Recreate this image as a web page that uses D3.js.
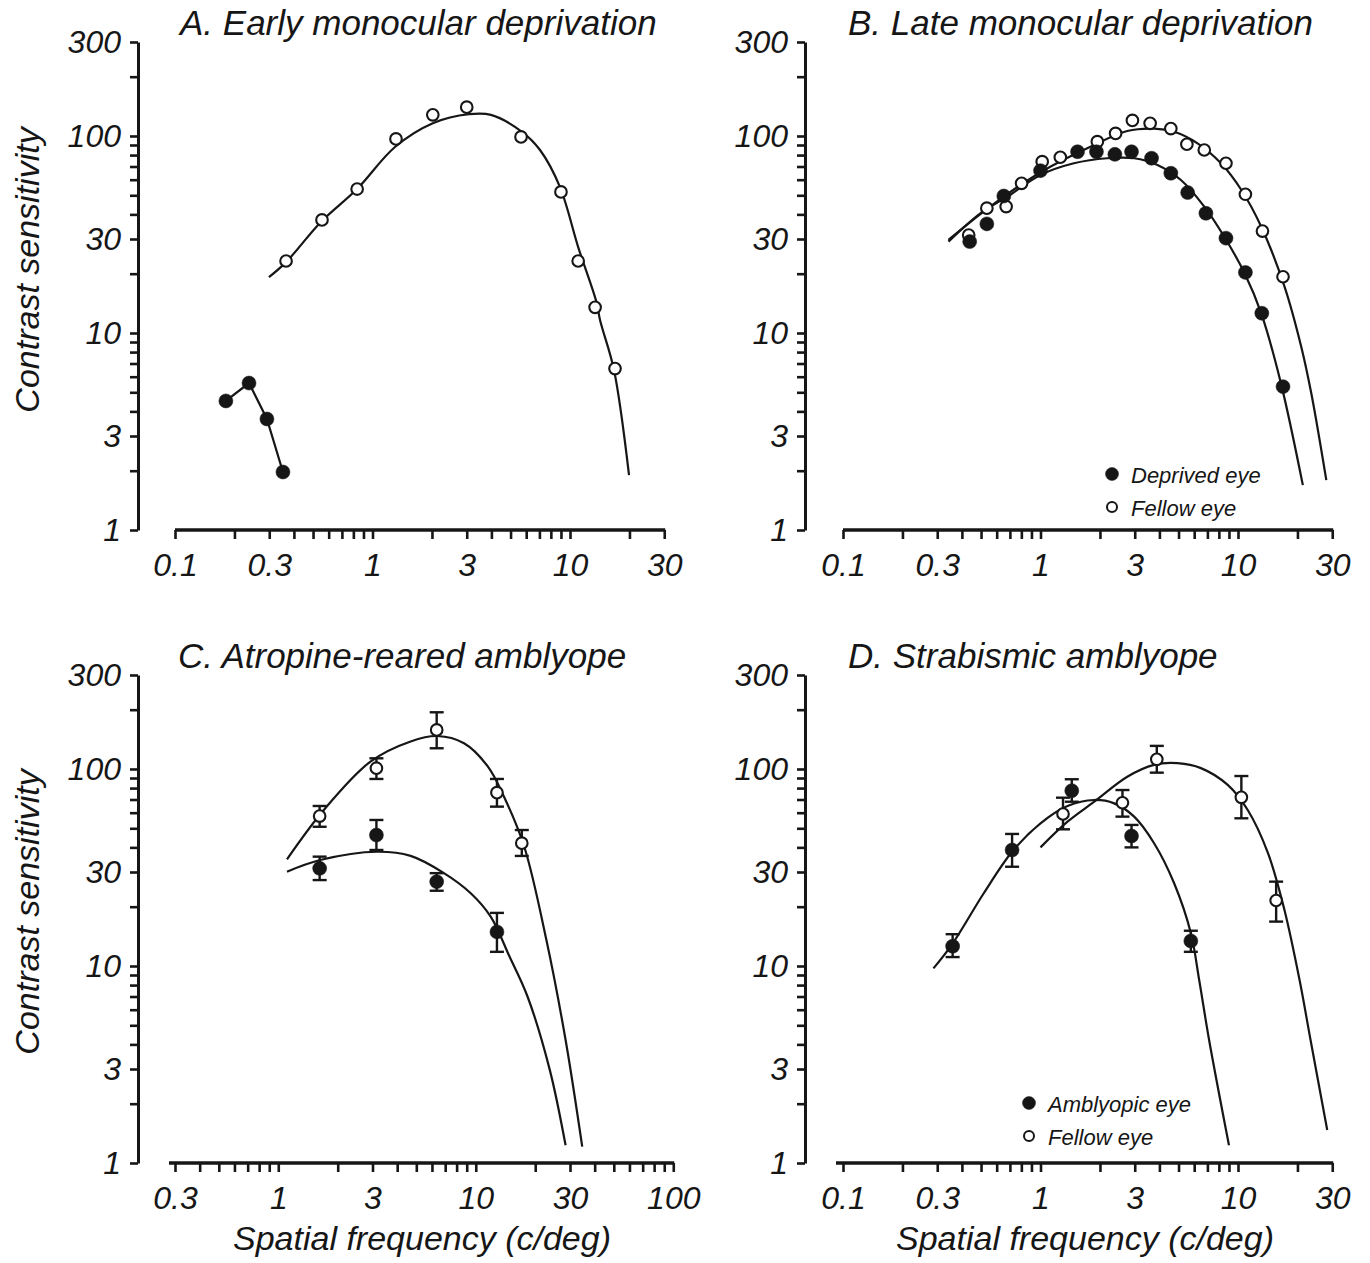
<!DOCTYPE html>
<html><head><meta charset="utf-8">
<script src="https://cdn.jsdelivr.net/npm/d3@7"></script>
<style>
body{margin:0;background:#fff}
text{font-family:"Liberation Sans",Arial,sans-serif;font-style:italic;fill:#161616}
</style>
</head><body>
<svg id="chart" width="1370" height="1263"></svg>
<script>
// ---------- tick values ----------
const yTicks = [1,2,3,4,5,6,7,8,9,10,20,30,40,50,60,70,80,90,100,200,300];
const yTickLabels = [1,3,10,30,100,300];
const xTicksWide = [0.1,0.2,0.3,0.4,0.5,0.6,0.7,0.8,0.9,1,2,3,4,5,6,7,8,9,10,20,30];
const xTickLabelsWide = [0.1,0.3,1,3,10,30];
const xTicksC = [0.3,0.4,0.5,0.6,0.7,0.8,0.9,1,2,3,4,5,6,7,8,9,10,20,30,40,50,60,70,80,90,100];
const xTickLabelsC = [0.3,1,3,10,30,100];

// ---------- Panel A: early monocular deprivation ----------
const aOpen = [[0.365,23.2],[0.555,37.5],[0.836,53.8],[1.315,96.6],[2.02,128],[3.0,140],[5.65,98.9],[9.0,52],[11.0,23.2],[13.4,13.5],[16.9,6.6]];
const aOpenCurve = [[0.299,19.2],[0.365,22.9],[0.548,36.6],[0.835,53.8],[1.30,87.9],[2.02,116],[3.08,129],[3.98,128],[5.71,105],[7.05,84.9],[8.9,55],[11.0,27.3],[13.6,14.4],[14.2,11.6],[16.7,6.49],[19.9,1.90]];
const aFilled = [[0.181,4.52],[0.237,5.57],[0.292,3.66],[0.352,1.97]];

// ---------- Panel B: late monocular deprivation ----------
const bDeprived = [[0.438,29.1],[0.535,35.8],[0.652,49.6],[1.00,66.7],[1.54,83.2],[1.92,83.2],[2.38,80.7],[2.89,83.2],[3.65,77.1],[4.57,64.7],[5.56,51.6],[6.88,40.5],[8.69,30.3],[10.9,20.3],[13.2,12.6],[16.9,5.34]];
const bFellow = [[0.433,31.4],[0.535,43.0],[0.670,43.8],[0.802,57.5],[1.02,74.1],[1.26,78.0],[1.94,93.6],[2.40,103],[2.92,120],[3.59,116],[4.57,109],[5.51,90.8],[6.75,84.9],[8.69,72.7],[10.9,50.6],[13.3,32.9],[16.9,19.3]];
const bDeprivedCurve = [[0.342,29.1],[0.496,40.5],[0.678,49.2],[1.0,63.4],[1.476,72.7],[2.18,77.1],[2.98,77.1],[3.91,71.3],[5.14,59.8],[6.75,43.8],[8.52,30.8],[10.8,20.1],[13.1,12.6],[16.5,5.55],[21.3,1.69]];
const bFellowCurve = [[0.342,29.7],[0.515,41.3],[0.791,56.4],[1.12,69.8],[1.79,88.3],[2.75,106],[3.76,109],[4.75,105],[6.24,91.8],[8.20,72.7],[10.4,53.2],[13.1,34.7],[17.2,17.2],[20.9,8.52],[23.5,4.94],[28.0,1.79]];

// ---------- Panel C: atropine-reared amblyope (f, s, lo, hi) ----------
const cFellow = [[1.62,57.7,50.9,64.9],[3.14,100.9,89.0,113.3],[6.34,157.8,127.4,194],[12.8,75.8,64.4,89.0],[17.1,42.0,36.2,49.0]];
const cAmblyopic = [[1.62,31.3,27.3,35.9],[3.14,46.2,38.8,55.1],[6.34,26.8,24.1,29.6],[12.8,14.9,11.8,18.6]];
const cFellowCurve = [[1.107,34.8],[1.70,61.9],[2.93,109],[4.68,138],[6.39,147],[8.72,135],[11.5,103],[13.9,72.3],[17.6,40.3],[22.8,13.5],[28.5,4.21],[34.6,1.21]];
const cAmblyopicCurve = [[1.107,30.1],[1.63,34.5],[3.17,38.0],[4.68,36.2],[6.90,29.6],[9.43,23.4],[11.9,17.8],[14.8,11.2],[18.3,6.98],[23.7,2.97],[28.5,1.23]];

// ---------- Panel D: strabismic amblyope (f, s, lo, hi) ----------
const dAmblyopic = [[0.359,12.6,11.1,14.5],[0.718,38.8,31.9,46.8],[1.44,77.6,68.2,88.7],[2.89,45.7,40.0,52.0],[5.77,13.4,11.8,15.1]];
const dFellow = [[1.30,59.1,49.4,71.5],[2.60,67.4,57.3,78.2],[3.88,112,95.8,131],[10.4,71.8,56.2,92.1],[15.6,21.5,16.8,26.8]];
const dAmblyopicCurve = [[0.287,9.73],[0.359,13.0],[0.516,23.4],[0.718,38.0],[1.0,53.0],[1.37,64.9],[1.87,69.6],[2.36,66.9],[2.98,57.3],[3.76,42.0],[4.75,26.3],[5.77,14.7],[6.36,8.49],[7.14,4.21],[9.00,1.23]];
const dFellowCurve = [[1.0,40.0],[1.37,54.0],[1.87,68.2],[2.75,91.4],[3.76,105],[4.94,107],[6.49,101],[8.87,83.0],[11.2,61.9],[14.2,37.3],[17.2,19.2],[20.5,8.49],[23.3,4.21],[28.3,1.47]];

// ---------- layout ----------
const DEC = 197.5;
const svg = d3.select("#chart");
const INK = "#161616";

function makePanel(cfg){
  const g = svg.append("g");
  const x = d3.scaleLog().domain(cfg.xDomain)
    .range([cfg.x0, cfg.x0 + Math.log10(cfg.xDomain[1]/cfg.xDomain[0])*DEC]);
  const y = d3.scaleLog().domain([1,300]).range([cfg.yBot, cfg.yBot - Math.log10(300)*DEC*0.9975]);

  // y axis
  const ya = g.append("g").attr("transform",`translate(${cfg.yAxisX},0)`)
    .call(d3.axisLeft(y).tickValues(yTicks).tickSize(8).tickSizeOuter(0).tickPadding(9)
      .tickFormat(d => yTickLabels.includes(d) ? d : ""));
  ya.select(".domain").attr("stroke",INK).attr("stroke-width",3);
  ya.selectAll(".tick line").attr("stroke",INK).attr("stroke-width",2.6);
  ya.selectAll(".tick text").attr("font-size",32).attr("fill",INK)
    .attr("font-family",null).attr("font-style","italic");

  // x axis
  const xa = g.append("g").attr("transform",`translate(0,${cfg.yBot})`)
    .call(d3.axisBottom(x).tickValues(cfg.xTicks).tickSize(9).tickSizeOuter(0).tickPadding(14)
      .tickFormat(d => cfg.xLabels.includes(d) ? d : ""));
  xa.select(".domain").remove();
  const r = x.range();
  xa.append("line").attr("x1",r[0]-cfg.ext).attr("x2",r[1]+1).attr("y1",0).attr("y2",0)
    .attr("stroke",INK).attr("stroke-width",3.4);
  xa.selectAll(".tick line").attr("stroke",INK).attr("stroke-width",2.6);
  xa.selectAll(".tick text").attr("font-size",32).attr("fill",INK)
    .attr("font-family",null).attr("font-style","italic");
  g.selectAll("text").attr("font-family",'"Liberation Sans",Arial,sans-serif');

  // title
  g.append("text").attr("x",cfg.titleX).attr("y",cfg.titleY).attr("font-size",35).text(cfg.title);

  const line = d3.line().x(d=>x(d[0])).y(d=>y(d[1])).curve(d3.curveCatmullRom.alpha(0.5));
  const straight = d3.line().x(d=>x(d[0])).y(d=>y(d[1]));

  (cfg.curves||[]).forEach(c=>{
    g.append("path").attr("d",line(c)).attr("fill","none").attr("stroke",INK).attr("stroke-width",2.2);
  });
  (cfg.straight||[]).forEach(c=>{
    g.append("path").attr("d",straight(c)).attr("fill","none").attr("stroke",INK).attr("stroke-width",2.2);
  });
  (cfg.errSeries||[]).forEach(s=>{
    const eg = g.append("g");
    s.data.forEach(d=>{
      const cx = x(d[0]);
      eg.append("line").attr("x1",cx).attr("x2",cx).attr("y1",y(d[2])).attr("y2",y(d[3]))
        .attr("stroke",INK).attr("stroke-width",2.4);
      [d[2],d[3]].forEach(v=>{
        eg.append("line").attr("x1",cx-7).attr("x2",cx+7).attr("y1",y(v)).attr("y2",y(v))
          .attr("stroke",INK).attr("stroke-width",2.4);
      });
    });
  });
  (cfg.points||[]).forEach(s=>{
    g.append("g").selectAll("circle").data(s.data).join("circle")
      .attr("cx",d=>x(d[0])).attr("cy",d=>y(d[1]))
      .attr("r", s.filled ? 7 : 5.8)
      .attr("fill", s.filled ? INK : "#fff")
      .attr("stroke", INK).attr("stroke-width", s.filled ? 0.5 : 2.1);
  });
  if(cfg.legend){
    cfg.legend.forEach((L,i)=>{
      const ly = cfg.legendY + i*33;
      g.append("circle").attr("cx",cfg.legendX).attr("cy",ly)
        .attr("r", L.filled ? 6.5 : 5).attr("fill", L.filled ? INK : "#fff")
        .attr("stroke",INK).attr("stroke-width", L.filled ? 0.5 : 2);
      g.append("text").attr("x",cfg.legendX+19).attr("y",ly+9).attr("font-size",22).text(L.label);
    });
  }
}

makePanel({x0:175, xDomain:[0.1,30], xTicks:xTicksWide, xLabels:xTickLabelsWide, yAxisX:138, yBot:530, ext:0,
  title:"A. Early monocular deprivation", titleX:180, titleY:35,
  curves:[aOpenCurve], straight:[aFilled],
  points:[{data:aOpen, filled:false},{data:aFilled, filled:true}]});

makePanel({x0:843, xDomain:[0.1,30], xTicks:xTicksWide, xLabels:xTickLabelsWide, yAxisX:805, yBot:530, ext:0,
  title:"B. Late monocular deprivation", titleX:848, titleY:35,
  curves:[bDeprivedCurve, bFellowCurve],
  points:[{data:bFellow, filled:false},{data:bDeprived, filled:true}],
  legend:[{label:"Deprived eye", filled:true},{label:"Fellow eye", filled:false}], legendX:1112, legendY:474});

makePanel({x0:175, xDomain:[0.3,100], xTicks:xTicksC, xLabels:xTickLabelsC, yAxisX:138, yBot:1163, ext:6,
  title:"C. Atropine-reared amblyope", titleX:178, titleY:668,
  curves:[cFellowCurve, cAmblyopicCurve],
  errSeries:[{data:cFellow},{data:cAmblyopic}],
  points:[{data:cFellow, filled:false},{data:cAmblyopic, filled:true}]});

makePanel({x0:843, xDomain:[0.1,30], xTicks:xTicksWide, xLabels:xTickLabelsWide, yAxisX:805, yBot:1163, ext:7,
  title:"D. Strabismic amblyope", titleX:848, titleY:668,
  curves:[dAmblyopicCurve, dFellowCurve],
  errSeries:[{data:dAmblyopic},{data:dFellow}],
  points:[{data:dFellow, filled:false},{data:dAmblyopic, filled:true}],
  legend:[{label:"Amblyopic eye", filled:true},{label:"Fellow eye", filled:false}], legendX:1029, legendY:1103});

// axis titles
[270, 912].forEach(cy=>{
  svg.append("text").attr("transform",`translate(39,${cy}) rotate(-90)`).attr("text-anchor","middle")
    .attr("font-size",34).text("Contrast sensitivity");
});
[[422,1250],[1085,1250]].forEach(p=>{
  svg.append("text").attr("x",p[0]).attr("y",p[1]).attr("text-anchor","middle")
    .attr("font-size",34).text("Spatial frequency (c/deg)");
});
</script>
</body></html>
